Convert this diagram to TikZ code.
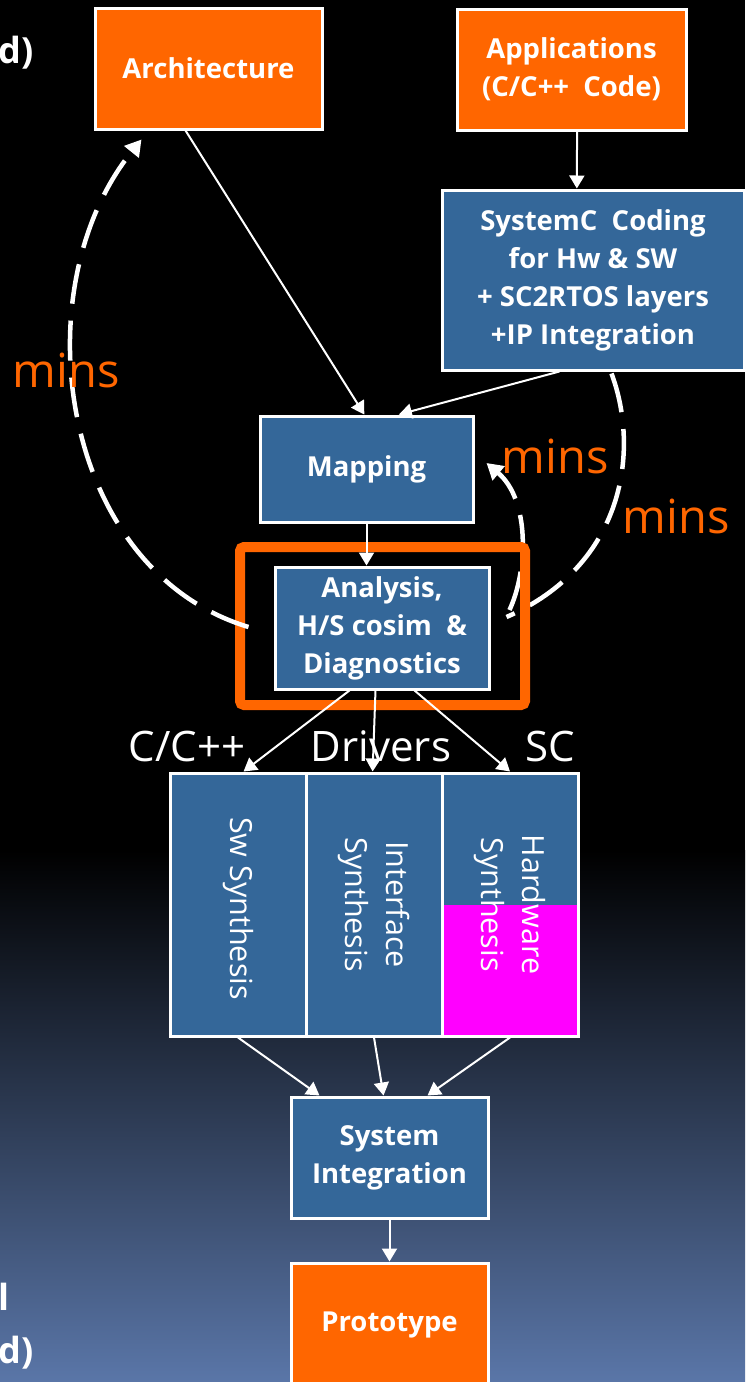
\documentclass[tikz,border=0pt]{standalone}
\usepackage{fontspec}
\setmainfont{Open Sans}
\usetikzlibrary{arrows.meta,calc}

\definecolor{orng}{RGB}{255,102,0}
\definecolor{blu}{RGB}{52,103,153}
\definecolor{hwpink}{RGB}{255,0,255}
\definecolor{bgbot}{RGB}{90,118,168}

\begin{document}
\begin{tikzpicture}[x=1pt,y=-1pt,
  box/.style={draw=white, line width=3pt, inner sep=0pt, text=white, align=center,
              font=\bfseries\fontsize{27.5}{38}\selectfont},
  srcbox/.style={box, fill=orng},
  stagebox/.style={box, fill=blu},
  vtext/.style={text=white, align=center, rotate=-90, inner sep=0pt,
                font=\fontsize{30.5}{41}\selectfont},
  flow/.style={draw=white, line width=2pt, -{Triangle[length=13pt,width=15pt]}},
  loop/.style={draw=white, line width=4.5pt, dash pattern=on 40pt off 17pt},
  looptip/.style={-{Triangle[length=16pt,width=18pt]}},
  tag/.style={text=orng, inner sep=0pt, font=\fontsize{47}{47}\selectfont},
  lane/.style={text=white, inner sep=0pt, font=\fontsize{42}{42}\selectfont},
  edgetext/.style={text=white, inner sep=0pt, font=\bfseries\fontsize{36}{36}\selectfont},
]
\useasboundingbox (0,0) rectangle (745,1382);
\clip (0,0) rectangle (745,1382);

% background: black, fading to slate blue at the bottom
\fill[black] (0,0) rectangle (745,1382);
\shade[top color=black, bottom color=bgbot] (0,850) rectangle (745,1382);

% text at the left edge
\node[edgetext, anchor=west] at (-1.5,53) {d)};
\node[edgetext, anchor=west] at (-1.5,1297) {l};
\node[edgetext, anchor=west] at (-1.5,1353) {d)};

% stages
\node[srcbox, minimum width=227pt, minimum height=121pt] (arch) at (208.5,68.5) {Architecture};
\node[srcbox, minimum width=229pt, minimum height=121pt] (apps) at (571.5,69.5) {Applications\\(C/C++~~Code)};
\node[stagebox, minimum width=302pt, minimum height=180pt] (sysc) at (593,280)
  {SystemC~~Coding\\for Hw \& SW\\+ SC2RTOS layers\\+IP Integration};
\node[stagebox, minimum width=213pt, minimum height=106pt] (map) at (366.5,469) {Mapping};
\node[stagebox, minimum width=214pt, minimum height=122pt] (ana) at (382,628)
  {Analysis,\\H/S cosim~~\&\\Diagnostics};

% refinement loops behind the highlight frame
\coordinate (rstart) at ($(sysc.south west)+(171,2)$);
\coordinate (rend) at ($(ana.east)+(16,-11)$);
\draw[loop] (rstart) .. controls (640,450) and (625,565) .. (rend);
\coordinate (sstart) at ($(ana.east)+(19,-18)$);
\coordinate (send) at ($(map.east)+(12,-6)$);
\draw[loop, looptip] (sstart) .. controls (528,570) and (530,500) .. (send);

% highlight frame round the analysis step
\node[draw=orng, line width=10pt, rounded corners=4pt, minimum width=285pt,
      minimum height=158pt, inner sep=0pt] (focus) at (382.5,626) {};

% synthesis lanes
\node[stagebox, minimum width=136pt, minimum height=263pt] (sw) at (238,904.5) {};
\node[stagebox, minimum width=136pt, minimum height=263pt] (intf) at (374,904.5) {};
\node[stagebox, minimum width=136pt, minimum height=263pt,
      path picture={\fill[hwpink] (path picture bounding box.west) rectangle
                    (path picture bounding box.south east);}] (hw) at (510,904.5) {};
\node[vtext] at ($(sw)+(0,4)$) {Sw Synthesis};
\node[vtext] at (intf) {Interface\\Synthesis};
\node[vtext] at (hw) {Hardware\\Synthesis};

\node[stagebox, minimum width=197pt, minimum height=121pt] (sint) at (389.5,1157.5) {System\\Integration};
\node[srcbox, minimum width=197pt, minimum height=124pt] (proto) at (389.5,1325) {Prototype};

% flow arrows
\draw[flow] ($(arch.south west)!0.4!(arch.south east)$) -- ($(map.north west)!0.49!(map.north east)$);
\draw[flow] ($(apps.south west)!0.524!(apps.south east)$) -- ($(sysc.north west)!0.447!(sysc.north east)$);
\draw[flow] ($(sysc.south west)!0.39!(sysc.south east)$) -- ($(map.north west)!0.65!(map.north east)$);
\draw[flow] (map.south) -- (map.south |- ana.north);
\draw[flow] ($(ana.south west)!0.35!(ana.south east)$) -- ($(sw.north west)!0.54!(sw.north east)$);
\draw[flow] ($(ana.south west)!0.47!(ana.south east)$) -- ($(intf.north west)!0.49!(intf.north east)$);
\draw[flow] ($(ana.south west)!0.65!(ana.south east)$) -- (hw.north);
\draw[flow] (sw.south) -- ($(sint.north west)!0.15!(sint.north east)$);
\draw[flow] (intf.south) -- ($(sint.north west)!0.47!(sint.north east)$);
\draw[flow] (hw.south) -- ($(sint.north west)!0.69!(sint.north east)$);
\draw[flow] (sint.south) -- (proto.north);

% outer loop back to the architecture
\coordinate (lstart) at ($(ana.west)+(-25,-1)$);
\coordinate (lend) at ($(arch.south west)+(48,9)$);
\draw[loop, looptip] (lstart) .. controls (60,570) and (20,290) .. (lend);

% labels
\node[tag] at (66,370) {mins};
\node[tag] at (555,456) {mins};
\node[tag] at (676,516) {mins};
\node[lane] at (187,746) {C/C++};
\node[lane] at (381,746) {Drivers};
\node[lane] at (550,746) {SC};
\end{tikzpicture}
\end{document}
